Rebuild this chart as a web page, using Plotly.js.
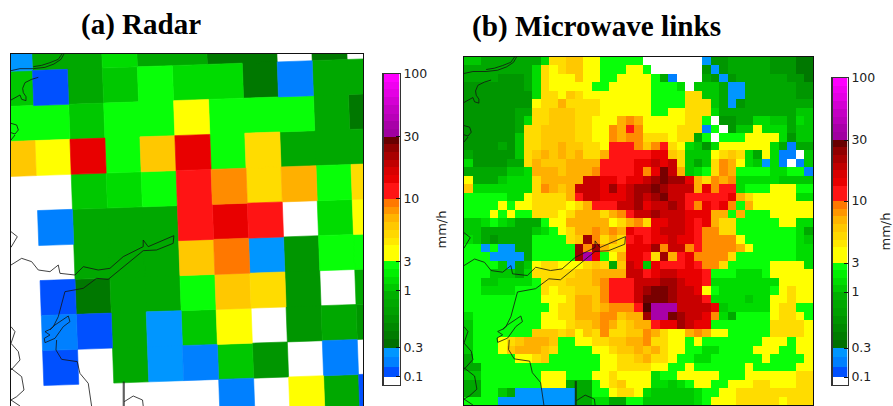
<!DOCTYPE html>
<html><head><meta charset="utf-8">
<script src="https://cdn.plot.ly/plotly-3.0.1.min.js"></script>
<style>html,body{margin:0;padding:0;background:#fff}#c{width:893px;height:406px}</style>
</head><body><div id="c"></div>
<script>
// rain-rate class codes and their colours
const levelCodes = ['W','B','C','D','1','2','3','4','5','6','y','k','g','a','n','o','p','q','r','s','t','u','v'];
const levelColors = ['#ffffff','#0050ff','#0080ff','#0096ff','#007800','#009600','#00a800','#00c800','#00dc00','#08ff08',
  '#ffff00','#ffdc00','#ffc800','#ffb000','#ff8c00','#ff7800','#ff1414','#e80000','#c80000','#a00000','#780000','#500000','#a800a8'];

// (a) radar, row by row
const radarRows = [
 'D3353311W1W',
 '4B346551C33',
 '66466y66631',
 'gyq6gq6k333',
 'WW456pnka6k',
 'WC333pqpW5y',
 'WW333goD266',
 'WB1336gk2W3',
 'WCB3D4yW232',
 'WBW3DC42WCW',
 'WWWWWWCWy3B'
];

// (b) microwave links, row by row
const linkRows = [
 '4433333335kkggyy66666WWWWWWWD223333322211',
 '333333335kykggyy666yy6WWWWWW2D23333322211',
 '333322235kyyygyy66yyyy63CWWW32D2333333221',
 '222222235kyyyyy66yyyyy6665W4443DD33333322',
 '222222225kkygkyyyyyyyy6666kk443DD33333322',
 '22222222ykkakkkkyyyyyy6666kkk43D233333333',
 '22222233kkgggkkkyyyyyy66yykkk533333333344',
 '22222235kkgggkkyyyanayyyyykk6W22335544354',
 '2222223kkggggkkyynapnyyyykkkC6W244y555344',
 '2222224kkggggkkyynannkkkykk36W666yyyy5244',
 '2222324kkggaggkkypppngnpky5425yyyyyy53C33',
 '3222224kgagagakkappppqqgk444ykgk53y5CCW4'.replace('pppp','ppppp'),
 '5222233kagggaaaappppqqrqrk434knay54D5CWC4',
 '33333445aaagaaanppppqnqtra456kna66665566C',
 'y3334555kaaaaarrqqpqqrstssqaknan555554444',
 'g5555555knagarrrqsqrsstsrrraqnpp5666yyy66',
 '6666655ykkkkaprrqqqrsrstrrpppppqakyyyyy55',
 '6666y6yykkkkykappprrsqrrsrpnqpqn6ayyyyyyy',
 '666y6y66kkkykaaakanprrsrrrqqqaa6a666yyyyy',
 '4456543336yyaaaaaykankqqrrqpqakk66666yy55',
 '44333333456ykaananaqppqrrrqpnnkk666666653',
 '543233336666kgsnkakpqpqqrqqpnnnny66666654',
 '66D6DD3366666snsakkqqqsnrrnpnnnnay6666655',
 '666DDDD366666svq6yaqqpksapqnnnnk666666655',
 '66664D34ykkyyykgk3grq4qpppqpnnk66666yyyy5',
 '66644435kkkkkggaaaarrpqrrqqqp6665556yyyyy',
 '664455556kkkggganppprrrssrqqp55555555yyyy',
 '665555666kykkgggnpppRsttsrrqy65555556ykyy'.replace('R','r'),
 '666666666yyykaagnpppr'.concat('tttsrrrp5555455yykyy'),
 '6666666666ykkaagannnpuvvvrrrrq455555ykk66',
 '566666666yykkaaanngaasvvtsrrqn536666ykky6',
 '466666666yyykgganakgaapqqsrqq6666666kkkky'.replace('apqqsrqq6','apqqsrqq6'),
 '46666666gggkgygknkkggnakyyanayy66666kkkky',
 '4666ykgaaag66yykkggaankkyy6y6666666yyy6yy',
 '4666ygaaagk6666yykggagakyy66556666yyy66yy',
 '366666yykg666666yykkgakky6655666666y6666y',
 '3366666666666666yykkkkyy66y666666y66666yy',
 '446666666yyy666yykyyyy566yyyyy666yyyyyykk',
 '336666666yyy3336ykgyyy55456yy66yyykkyyykk',
 '336643DDDDDDD3366ykky544444566yykkkkkkkkk',
 '6666DDDDDDDDD3355336644444456yyykkkkkykkk'
];

// map outlines, in map units
const coastX = [192,183,162,135,100,60,33,null,186,175,150,125,100,null,
  115,95,75,68,70,78,78,65,60,45,33,null,33,50,55,45,33,null,33,45,null,33,52,33,null,
  33,65,95,115,150,175,180,225,250,295,330,370,430,430,445,500,522,520,470,430,385,325,290,250,195,180,175,160,150,null,
  205,210,190,165,135,133,150,135,150,165,205,null,
  170,168,185,232,240,265,275,null,
  33,45,33,55,60,33,null,33,65,72,50,33,60,null,
  370,370,null,373,373,null,373,400,428,430];
const coastY = [42,58,72,82,86,86,92,null,42,58,68,76,80,null,
  112,118,128,145,158,170,182,178,165,172,180,null,250,255,270,282,278,null,300,285,null,575,590,622,null,
  675,655,665,690,695,675,700,705,680,690,685,650,620,600,620,595,587,610,630,632,670,718,715,745,755,810,830,860,870,null,
  828,845,860,895,908,895,885,875,868,855,828,null,
  900,930,958,965,1000,1030,1098,null,
  860,875,910,935,960,990,null,985,1010,1050,1070,1080,1098,null,
  1025,1098,null,1025,1098,null,1085,1068,1080,1098];

// colour bar
const barColors = ['#ffffff','#0050ff','#0080ff','#0096ff',
 '#007000','#007c00','#008800','#009400','#00a000','#00a800','#00b000',
 '#00c800','#00dc00','#00f000','#08ff08',
 '#ffff00','#ffff00','#ffe800','#ffd800','#ffc800','#ffb400','#ff9600','#ff7800',
 '#ff1414','#ff1414','#e80000','#d80000','#c00000','#a80000','#900000','#680000',
 '#a000a0','#a800a8','#b800b8','#c400c4','#d400d4','#e400e4','#f000f0','#ff00ff'];
const barEdges = [0,8,18,28,37,45,53,61,69,77,85,93,100,107,115,122,130,138,145,153,161,169,176,184,192,199,207,215,222,230,238,245,253,261,268,276,284,292,299,307];
const barTickPos = [8,37,93,122,184,245,307];
const barTickText = ['0.1','0.3','1','3','10','30','100'];

const W = 893, H = 406;
const domX = (a,b)=>[a/W,b/W];
const domY = (top,bot)=>[1-bot/H,1-top/H];
const mapX = [33,1090], mapY = [1098,42];

function discrete(colors){
  const n = colors.length, s = [];
  colors.forEach((c,i)=>{ s.push([i/n,c]); s.push([(i+1)/n,c]); });
  return s;
}

const traces = [];

// radar: cells lie on a slightly turned lattice
const origin = [-11.4,-9.6], stepU = [105,-3.7], stepV = [3.8,105];
const radarGroups = {};
radarRows.forEach((row,r)=>{
  row.split('').forEach((code,c)=>{
    if(code==='W') return;
    const g = radarGroups[code] || (radarGroups[code]={x:[],y:[]});
    const corner=(i,j)=>[origin[0]+i*stepU[0]+j*stepV[0], origin[1]+i*stepU[1]+j*stepV[1]];
    [[c,r],[c+1,r],[c+1,r+1],[c,r+1],[c,r]].forEach(p=>{
      const q = corner(p[0],p[1]); g.x.push(q[0]); g.y.push(q[1]);
    });
    g.x.push(null); g.y.push(null);
  });
});
Object.keys(radarGroups).forEach(code=>{
  const col = levelColors[levelCodes.indexOf(code)];
  traces.push({type:'scatter',mode:'lines',fill:'toself',fillcolor:col,
    x:radarGroups[code].x,y:radarGroups[code].y,
    line:{color:col,width:0.6},hoverinfo:'skip',showlegend:false,xaxis:'x',yaxis:'y'});
});

// microwave links: heatmap on a regular lattice
const cell = 1057/41;
const linkZ = linkRows.map(row=>row.split('').map(ch=>levelCodes.indexOf(ch)));
traces.push({type:'heatmap',z:linkZ,x0:33+cell/2,dx:cell,y0:42+cell/2,dy:cell,
  zmin:-0.5,zmax:levelCodes.length-0.5,colorscale:discrete(levelColors),showscale:false,
  hoverinfo:'skip',xaxis:'x2',yaxis:'y2'});

// outlines on both panels
[['x','y'],['x2','y2']].forEach(a=>traces.push({type:'scatter',mode:'lines',x:coastX,y:coastY,
  line:{color:'rgba(20,20,20,0.8)',width:1},hoverinfo:'skip',showlegend:false,xaxis:a[0],yaxis:a[1]}));

// colour bars
[['x3','y3'],['x4','y4']].forEach(a=>traces.push({type:'heatmap',
  z:barColors.map((_,i)=>[i]),x:[0,1],y:barEdges,
  zmin:-0.5,zmax:barColors.length-0.5,colorscale:discrete(barColors),showscale:false,
  hoverinfo:'skip',xaxis:a[0],yaxis:a[1]}));

const frame = {showgrid:false,zeroline:false,showticklabels:false,ticks:'',showline:true,mirror:true,linecolor:'#111',linewidth:1};
const barFont = {family:'DejaVu Sans',size:12.5,color:'#222'};
const barX = d=>Object.assign({},frame,{domain:d,range:[0,1],fixedrange:true,linecolor:'#333',linewidth:1.4});
const barY = (d,anchor)=>({domain:d,range:[0,307],anchor:anchor,side:'right',showgrid:false,zeroline:false,
  tickmode:'array',tickvals:barTickPos,ticktext:barTickText,ticks:'inside',ticklen:4,tickcolor:'#111',tickwidth:1,
  tickfont:barFont,showline:true,mirror:true,linecolor:'#333',linewidth:1.4,
  title:{text:'mm/h',font:{family:'DejaVu Sans',size:13,color:'#222'},standoff:10}});

const layout = {
  width:W,height:H,margin:{l:0,r:0,t:0,b:0},paper_bgcolor:'#fff',plot_bgcolor:'#fff',showlegend:false,
  xaxis:Object.assign({},frame,{domain:domX(11,363),range:mapX,anchor:'y'}),
  yaxis:Object.assign({},frame,{domain:domY(54,406),range:mapY,anchor:'x'}),
  xaxis2:Object.assign({},frame,{domain:domX(464,813),range:mapX,anchor:'y2'}),
  yaxis2:Object.assign({},frame,{domain:domY(57,405),range:mapY,anchor:'x2'}),
  xaxis3:Object.assign(barX(domX(383.5,399.5)),{anchor:'y3'}),
  yaxis3:barY(domY(74,385),'x3'),
  xaxis4:Object.assign(barX(domX(832.5,847.5)),{anchor:'y4'}),
  yaxis4:barY(domY(78,385),'x4'),
  annotations:[
    {text:'<b>(a) Radar</b>',xref:'paper',yref:'paper',x:79/W,y:1-24/H,xanchor:'left',yanchor:'middle',showarrow:false,
     font:{family:'Liberation Serif',size:29,color:'#000'}},
    {text:'<b>(b) Microwave links</b>',xref:'paper',yref:'paper',x:470/W,y:1-27/H,xanchor:'left',yanchor:'middle',showarrow:false,
     font:{family:'Liberation Serif',size:29.2,color:'#000'}}
  ]
};
Plotly.newPlot('c',traces,layout,{displayModeBar:false,staticPlot:true});
</script>
</body></html>
